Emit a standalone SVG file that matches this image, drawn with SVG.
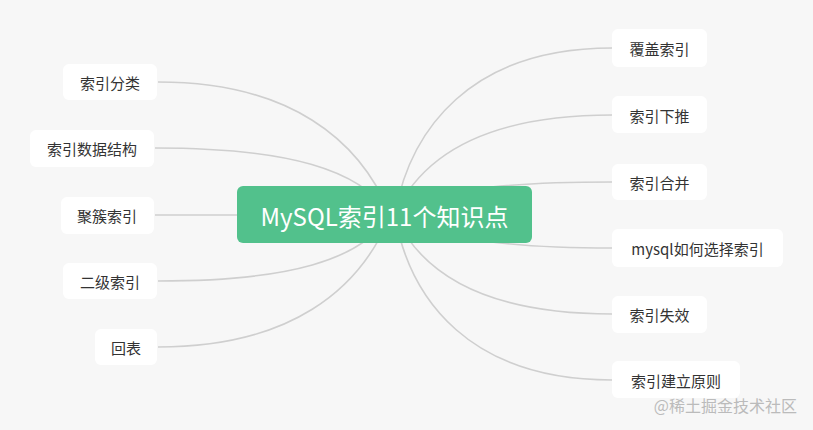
<svg xmlns="http://www.w3.org/2000/svg" width="813" height="430" viewBox="0 0 813 430">
<style>
.n rect{fill:#fff}
.n text{font-family:"Noto Sans CJK SC","Liberation Sans",sans-serif;font-size:15px;fill:#333;text-anchor:middle;dominant-baseline:central}
#links path{fill:none;stroke:#cfcfcf;stroke-width:1.6}
</style>
<rect width="813" height="430" fill="#f7f7f7"/>
<g id="links">
<path d="M158,82 C290,82 360,140 390,214"/>
<path d="M155,148 C290,148 360,170 390,214"/>
<path d="M155,215 L240,215"/>
<path d="M158,281 C290,281 360,260 390,216"/>
<path d="M158,347 C290,347 360,290 390,216"/>
<path d="M612,48 C470,48 410,130 395,214"/>
<path d="M612,115 C480,115 420,160 395,214"/>
<path d="M612,182 C500,182 430,190 395,214"/>
<path d="M612,248 C500,248 430,236 395,216"/>
<path d="M612,314 C480,314 420,270 395,216"/>
<path d="M612,380 C470,380 410,300 395,216"/>
</g>
<g id="center"><rect x="237" y="186" width="295" height="57" rx="6" fill="#52c18c"/><text x="384.5" y="215" font-family="Noto Sans CJK SC,Liberation Sans,sans-serif" font-size="24" fill="#fff" text-anchor="middle" dominant-baseline="central">MySQL索引11个知识点</text></g>
<g id="n1" class="n"><rect x="63" y="64" width="94" height="36" rx="6"/><text x="110" y="82">索引分类</text></g>
<g id="n2" class="n"><rect x="30" y="130" width="124" height="37" rx="6"/><text x="92" y="148">索引数据结构</text></g>
<g id="n3" class="n"><rect x="61" y="197" width="93" height="37" rx="6"/><text x="107" y="215">聚簇索引</text></g>
<g id="n4" class="n"><rect x="63" y="263" width="94" height="36" rx="6"/><text x="110" y="281">二级索引</text></g>
<g id="n5" class="n"><rect x="95" y="329" width="62" height="36" rx="6"/><text x="126" y="347">回表</text></g>
<g id="n6" class="n"><rect x="612" y="29" width="95" height="38" rx="6"/><text x="659.5" y="48">覆盖索引</text></g>
<g id="n7" class="n"><rect x="612" y="96" width="95" height="37" rx="6"/><text x="659.5" y="115">索引下推</text></g>
<g id="n8" class="n"><rect x="612" y="164" width="95" height="36" rx="6"/><text x="659.5" y="182">索引合并</text></g>
<g id="n9" class="n"><rect x="612" y="229" width="171" height="38" rx="6"/><text x="697.5" y="248">mysql如何选择索引</text></g>
<g id="n10" class="n"><rect x="612" y="296" width="95" height="37" rx="6"/><text x="659.5" y="314">索引失效</text></g>
<g id="n11" class="n"><rect x="612" y="361" width="128" height="37" rx="6"/><text x="676" y="380">索引建立原则</text></g>
<text x="797" y="405" font-family="Noto Sans CJK SC,Liberation Sans,sans-serif" font-size="16" fill="#bbb" text-anchor="end" dominant-baseline="central">@稀土掘金技术社区</text>
</svg>
